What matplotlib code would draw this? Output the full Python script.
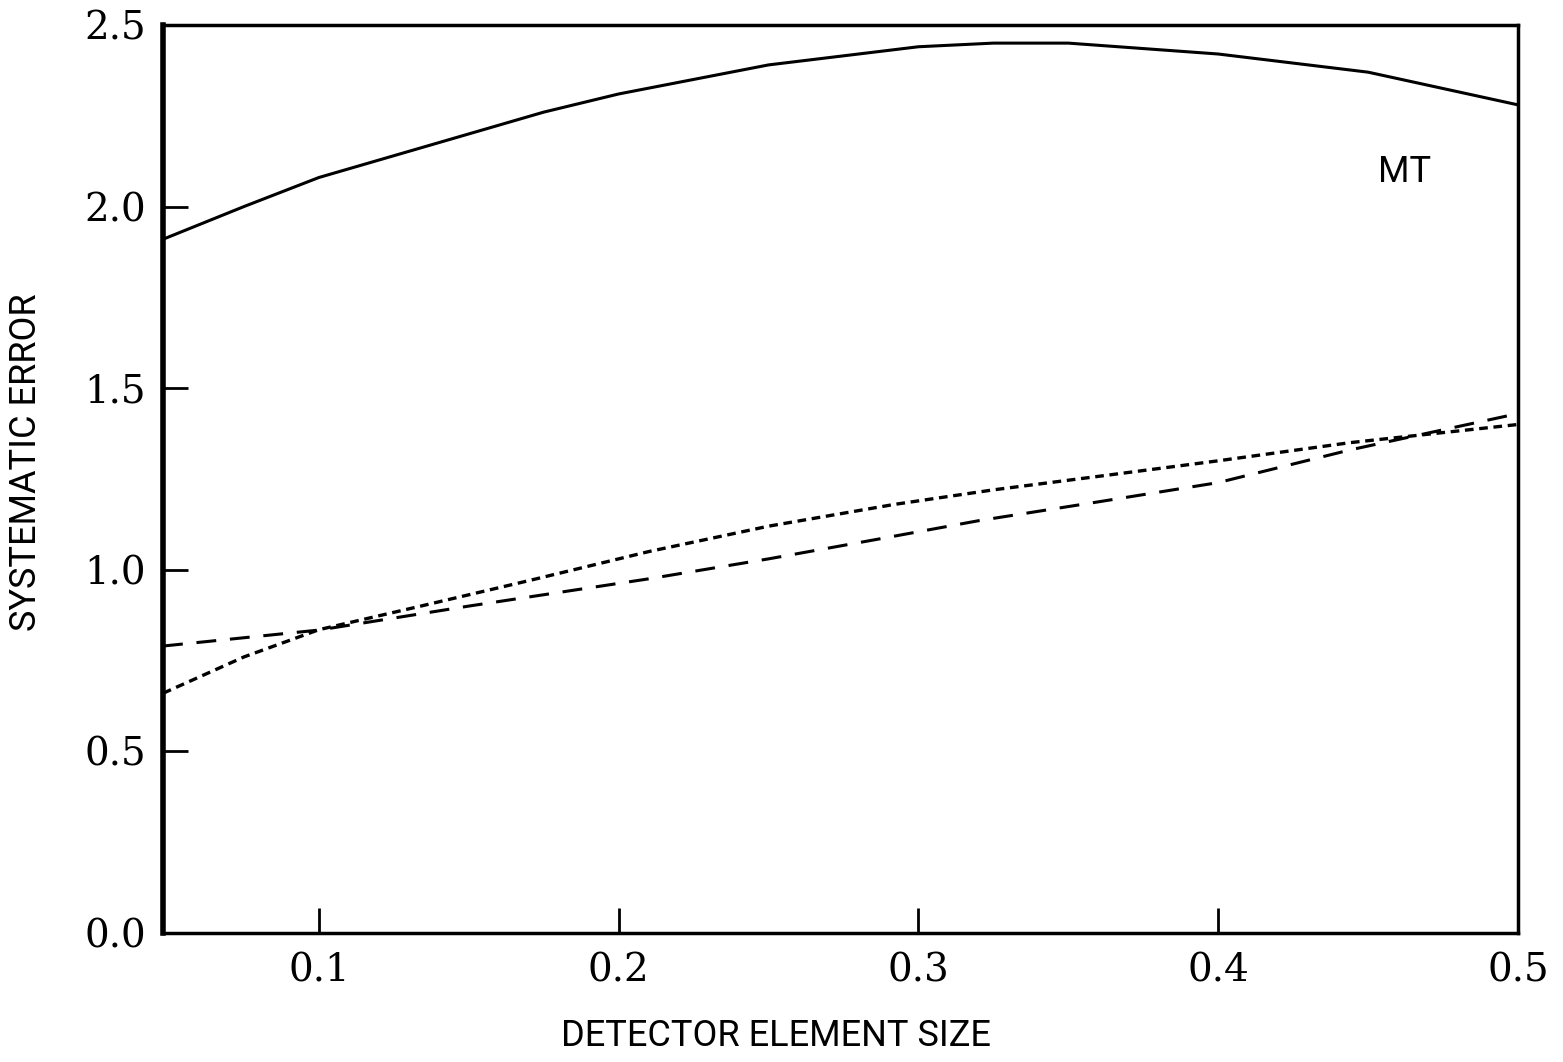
import numpy as np
import matplotlib
matplotlib.use("Agg")
import matplotlib.pyplot as plt

# curve readings (detector element size vs systematic error)
mt_x = [0.048, 0.075, 0.1, 0.125, 0.15, 0.175, 0.2, 0.25, 0.3, 0.325, 0.35, 0.4, 0.45, 0.5]
mt_y = [1.91, 2.00, 2.08, 2.14, 2.20, 2.26, 2.31, 2.39, 2.44, 2.45, 2.45, 2.42, 2.37, 2.28]

fine_x = [0.048, 0.075, 0.1, 0.134, 0.17, 0.21, 0.25, 0.292, 0.325, 0.358, 0.4, 0.444, 0.5]
fine_y = [0.66, 0.76, 0.835, 0.90, 0.97, 1.05, 1.12, 1.18, 1.22, 1.255, 1.30, 1.35, 1.40]

dash_x = [0.048, 0.1, 0.15, 0.21, 0.25, 0.285, 0.32, 0.36, 0.4, 0.444, 0.5]
dash_y = [0.79, 0.834, 0.90, 0.975, 1.03, 1.082, 1.135, 1.187, 1.24, 1.33, 1.43]

xticks = [0.1, 0.2, 0.3, 0.4, 0.5]
yticks = [0.0, 0.5, 1.0, 1.5, 2.0, 2.5]

label_font = ["Roboto", "DejaVu Sans"]

fig = plt.figure(figsize=(15.63, 10.62), dpi=100)
ax = fig.add_axes([0.1043, 0.1215, 0.8669, 0.855])

ax.plot(mt_x, mt_y, color="black", lw=2.2, solid_capstyle="butt")
ax.plot(fine_x, fine_y, color="black", lw=2.4, linestyle=(0, (2.6, 1.7)))
ax.plot(dash_x, dash_y, color="black", lw=2.2, linestyle=(0, (6.5, 4.5)))

ax.text(0.462, 2.095, "MT", fontsize=26, family=label_font, ha="center", va="center")

ax.set_xlim(0.048, 0.5)
ax.set_ylim(0.0, 2.5)
ax.set_xticks(xticks)
ax.set_yticks(yticks)
ax.set_xticklabels([f"{v:.1f}" for v in xticks], family="DejaVu Serif", fontsize=28)
ax.set_yticklabels([f"{v:.1f}" for v in yticks], family="DejaVu Serif", fontsize=28)

ax.tick_params(axis="x", direction="in", length=18, width=2, pad=14)
ax.tick_params(axis="y", direction="in", length=18, width=2, pad=12)
ax.tick_params(top=False, right=False)

for side, w in [("left", 4.0), ("bottom", 2.5), ("top", 2.5), ("right", 2.5)]:
    ax.spines[side].set_linewidth(w)

ax.set_xlabel("DETECTOR ELEMENT SIZE", fontsize=26, family=label_font)
ax.set_ylabel("SYSTEMATIC ERROR", fontsize=26, family=label_font)
ax.xaxis.set_label_coords(0.452, -0.094)
ax.yaxis.set_label_coords(-0.088, 0.518)

fig.savefig("out.png", dpi=100)
